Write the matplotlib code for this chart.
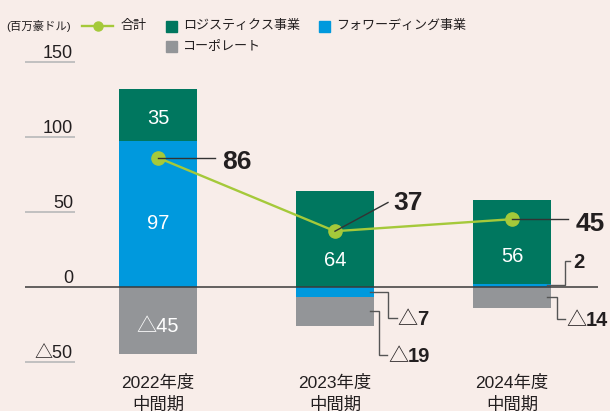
import matplotlib
matplotlib.use('Agg')
import matplotlib.pyplot as plt
from matplotlib.patches import Rectangle
from matplotlib.lines import Line2D

# ---------------- data ----------------
categories = ['2022年度', '2023年度', '2024年度']
sub_label = '中間期'
logistics = [35, 64, 56]
forwarding = [97, -7, 2]
corporate = [-45, -19, -14]
total = [86, 37, 45]
yticks = [150, 100, 50, 0, -50]
unit_label = '(百万豪ドル)'
legend_labels = ['合計', 'ロジスティクス事業', 'フォワーディング事業', 'コーポレート']

# ---------------- style ----------------
BG = '#F8EDE9'
GREEN = '#00775F'
BLUE = '#0099DD'
GREY = '#939598'
LIME = '#A5C93A'
DARK = '#231F20'
LEAD = '#555555'
FAM = ['Liberation Sans', 'Noto Sans CJK JP']
plt.rcParams['font.family'] = FAM


def fmt(v):
    return str(v) if v >= 0 else '△' + str(-v)


W, H = 610, 411
fig = plt.figure(figsize=(W / 100, H / 100), dpi=100, facecolor=BG)
L_PX, R_PX, T_PX, B_PX = 25, 598, 46.7, 376.7
ax = fig.add_axes([L_PX / W, 1 - B_PX / H, (R_PX - L_PX) / W, (B_PX - T_PX) / H])
ax.axis('off')
X0, X1 = -0.7514, 2.486
Y0, Y1 = -60, 160
ax.set_xlim(X0, X1)
ax.set_ylim(Y0, Y1)
SX = (R_PX - L_PX) / (X1 - X0)   # px per x unit
SY = (B_PX - T_PX) / (Y1 - Y0)   # px per y unit


def dxd(px):
    return px / SX


def dyd(py):  # py positive = downward in pixels
    return -py / SY


PT = 0.72  # points per pixel at dpi 100

# ---------------- bars ----------------
xs = list(range(len(categories)))
bw = 0.44
pos_base = [0] * len(xs)
neg_base = [0] * len(xs)
seg = {}
for name, vals, color in [('fwd', forwarding, BLUE), ('log', logistics, GREEN), ('corp', corporate, GREY)]:
    bottoms = []
    for i, v in enumerate(vals):
        if v >= 0:
            b = pos_base[i]
            pos_base[i] += v
        else:
            b = neg_base[i]
            neg_base[i] += v
        bottoms.append(b)
    ax.bar(xs, vals, bw, bottom=bottoms, color=color, zorder=2, linewidth=0)
    seg[name] = [(b, b + v) for b, v in zip(bottoms, vals)]

# ---------------- axis lines & labels ----------------
for v in yticks:
    if v == 0:
        ax.plot([X0, X1], [0, 0], color='#3A3A3A', lw=1.1, zorder=5, solid_capstyle='butt')
    else:
        ax.plot([X0, X0 + dxd(50)], [v, v], color='#BDBDBD', lw=1.3, zorder=1, solid_capstyle='butt')
    ax.annotate(fmt(v), xy=(X0 + dxd(48), v), xytext=(0, 4 * PT), textcoords='offset points',
                ha='right', va='baseline', fontsize=13, color=DARK)

for i, c in enumerate(categories):
    ax.annotate(c, xy=(i, 0), xytext=(0, -(387.7 - 286.7) * PT), textcoords='offset points',
                ha='center', va='baseline', fontsize=12.5, color=DARK, annotation_clip=False)
    ax.annotate(sub_label, xy=(i, 0), xytext=(0, -(409.5 - 286.7) * PT), textcoords='offset points',
                ha='center', va='baseline', fontsize=12.5, color=DARK, annotation_clip=False)

# ---------------- total line ----------------
ax.plot(xs, total, color=LIME, lw=1.7, marker='o', ms=9.5, zorder=6)


def ctext(x, y, s, dx_px, dy_px, fs, color=DARK, weight='normal', ha='left'):
    """text with visual (digit) center at pixel offset from (x,y)"""
    base = dy_px + 0.358 * fs / PT
    ax.annotate(s, xy=(x, y), xytext=(dx_px * PT, -base * PT), textcoords='offset points',
                ha=ha, va='baseline', fontsize=fs, color=color, fontweight=weight,
                zorder=8, annotation_clip=False)


def tri_text(x, y, v, dx_px, dy_px, fs):
    if v < 0:
        ctext(x, y, '△', dx_px, dy_px, fs, weight='normal')
        ctext(x, y, str(-v), dx_px + fs / PT * 0.98, dy_px, fs, weight='bold')
    else:
        ctext(x, y, str(v), dx_px, dy_px, fs, weight='bold')


# total leaders and labels
tot_lead = [((57, 0), (64, 2)), ((53, -28.7), (58, -30.5)), ((56, 0), (64, 2))]
for i, t in enumerate(total):
    (lx, ly), (tx, ty) = tot_lead[i]
    ax.plot([i, i + dxd(lx)], [t, t + dyd(ly)], color='#333333', lw=1.0, zorder=7)
    ctext(i, t, str(t), tx, ty, 19, weight='bold')

# inside labels (white) with pixel nudges
inside = [('log', 0, logistics[0], 2), ('fwd', 0, forwarding[0], 8), ('corp', 0, corporate[0], 4),
          ('log', 1, logistics[1], 20.5), ('log', 2, logistics[2], 13)]
for name, i, v, nudge in inside:
    b, t = seg[name][i]
    ctext(i, (b + t) / 2, fmt(v), 0, nudge, 14.5, color='white', ha='center')

# small-segment leaders (pixel paths relative to bar right edge / segment mid)
small = [('fwd', 1, forwarding[1], [(-4, 0), (14.3, 0), (14.3, 26), (22.7, 26)], 23.5),
         ('corp', 1, corporate[1], [(-4, 0), (5, 0), (5, 43.5), (12.7, 43.5)], 14.3),
         ('fwd', 2, forwarding[2], [(-4, 0), (14, 0), (14, -24.5), (19, -24.5)], 22.5),
         ('corp', 2, corporate[2], [(-4, 0), (5.7, 0), (5.7, 21.8), (14, 21.8)], 15)]
for name, i, v, path, tx in small:
    b, t = seg[name][i]
    ex, my = i + bw / 2, (b + t) / 2
    ax.plot([ex + dxd(p[0]) for p in path], [my + dyd(p[1]) for p in path],
            color=LEAD, lw=1.0, zorder=7, solid_joinstyle='miter')
    tri_text(ex, my, v, tx, path[-1][1], 14.5)

# ---------------- legend ----------------


def fx(p):
    return p / W


def fy(p):
    return 1 - p / H


fig.text(fx(6), fy(25.5), unit_label, fontsize=8.2, color=DARK, va='center', ha='left')
fig.add_artist(Line2D([fx(82), fx(113)], [fy(25.7)] * 2, color=LIME, lw=1.7, transform=fig.transFigure))
fig.add_artist(Line2D([fx(97.5)], [fy(25.7)], marker='o', ms=6.5, color=LIME, transform=fig.transFigure))
fig.text(fx(120.5), fy(25.5), legend_labels[0], fontsize=9.4, color=DARK, va='center')
for (sx_, sy_), col, lab in [((165.7, 20.7), GREEN, legend_labels[1]), ((319, 20.7), BLUE, legend_labels[2]),
                             ((165.7, 41), GREY, legend_labels[3])]:
    fig.add_artist(Rectangle((fx(sx_), fy(sy_ + 11)), 11 / W, 11 / H, color=col, transform=fig.transFigure))
    fig.text(fx(sx_ + 17), fy(sy_ + 5), lab, fontsize=9.4, color=DARK, va='center')

fig.savefig('out.png', dpi=100, facecolor=BG)
